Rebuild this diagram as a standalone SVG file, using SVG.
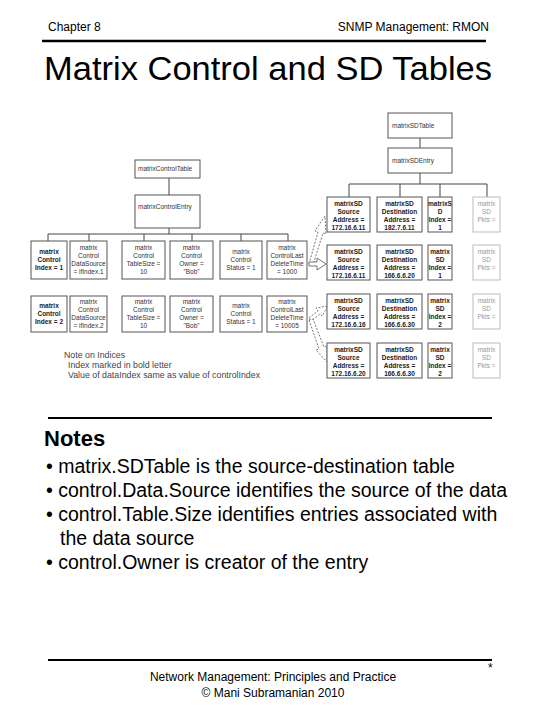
<svg xmlns="http://www.w3.org/2000/svg" width="540" height="720" viewBox="0 0 540 720">
<style>
.hdr{font-family:"Liberation Sans",Arial,sans-serif;font-size:12px;fill:#000}
.ttl{font-family:"Liberation Sans",Arial,sans-serif;font-size:33px;fill:#000}
.nts{font-family:"Liberation Sans",Arial,sans-serif;font-size:22px;font-weight:bold;fill:#000}
.bul{font-family:"Liberation Sans",Arial,sans-serif;font-size:19.5px;fill:#000}
.ftr{font-family:"Liberation Sans",Arial,sans-serif;font-size:12px;fill:#000}
.bx{fill:#fff;stroke:#555;stroke-width:1}
.lbx{fill:#fff;stroke:#bbb;stroke-width:1}
.t{font-family:"Liberation Sans",Arial,sans-serif;font-size:6.5px;fill:#333;text-anchor:middle}
.tl{font-family:"Liberation Sans",Arial,sans-serif;font-size:6.5px;fill:#333}
.nt{font-family:"Liberation Sans",Arial,sans-serif;font-size:8.8px;fill:#444}
.b{font-weight:bold;fill:#222}
.lt{fill:#999}
.cn{stroke:#444;stroke-width:1;fill:none}
.ar{stroke:#555;stroke-width:0.8;fill:#fff;stroke-dasharray:2 1.5}
.ars{stroke:#555;stroke-width:0.8;fill:#fff}
.rule{stroke:#000;stroke-width:2.5}
</style>
<text class="hdr" x="48" y="31">Chapter 8</text>
<text class="hdr" x="489" y="31" text-anchor="end">SNMP Management:  RMON</text>
<line class="rule" x1="42" y1="41" x2="486" y2="41"/>
<text class="ttl" x="44" y="80" textLength="448" lengthAdjust="spacingAndGlyphs">Matrix Control and SD Tables</text>

<g id="connectors">
<line class="cn" x1="420" y1="138" x2="420" y2="148"/>
<polyline class="cn" points="420,173 420,184"/>
<line class="cn" x1="349" y1="184" x2="487" y2="184"/>
<line class="cn" x1="349" y1="184" x2="349" y2="197"/>
<line class="cn" x1="400" y1="184" x2="400" y2="197"/>
<line class="cn" x1="440" y1="184" x2="440" y2="197"/>
<line class="cn" x1="487" y1="184" x2="487" y2="197"/>
<line class="cn" x1="169" y1="178" x2="169" y2="195"/>
<line class="cn" x1="169" y1="228" x2="169" y2="234"/>
<line class="cn" x1="48" y1="234" x2="288" y2="234"/>
<line class="cn" x1="48" y1="234" x2="48" y2="241"/>
<line class="cn" x1="89" y1="234" x2="89" y2="241"/>
<line class="cn" x1="144" y1="234" x2="144" y2="241"/>
<line class="cn" x1="192" y1="234" x2="192" y2="241"/>
<line class="cn" x1="241" y1="234" x2="241" y2="241"/>
<line class="cn" x1="288" y1="234" x2="288" y2="241"/>
<path class="ar" d="M309,264 L318,232 L315,231 L325,216 L326,234 L323,233 L313,265 Z"/>
<path class="ars" d="M309,262 L317,262 L317,258 L326,264 L317,270 L317,266 L309,266 Z"/>
<path class="ar" d="M309,318 L318,311 L316,308 L328,306 L322,316 L320,314 L311,321 Z"/>
<path class="ar" d="M309,320 L319,349 L316,350 L327,362 L327,346 L324,347 L313,319 Z"/>
</g>

<g id="matrixSDTable"><rect class="bx" x="388" y="113" width="64" height="25"/><text class="tl" x="392" y="128">matrixSDTable</text></g>
<g id="matrixSDEntry"><rect class="bx" x="388" y="148" width="64" height="25"/><text class="tl" x="392" y="163">matrixSDEntry</text></g>
<g id="matrixControlTable"><rect class="bx" x="135" y="160" width="65" height="18"/><text class="tl" x="138" y="171">matrixControlTable</text></g>
<g id="matrixControlEntry"><rect class="bx" x="135" y="195" width="65" height="33"/><text class="tl" x="138" y="209">matrixControlEntry</text></g>

<!-- left row 1 -->
<g id="ctl1-index"><rect class="bx" x="31" y="241" width="36" height="38"/><text class="t b" x="49" y="254">matrix</text><text class="t b" x="49" y="262">Control</text><text class="t b" x="49" y="270">Index = 1</text></g>
<g id="ctl1-source"><rect class="bx" x="70" y="241" width="37" height="38"/><text class="t" x="88.5" y="250">matrix</text><text class="t" x="88.5" y="258">Control</text><text class="t" x="88.5" y="266">DataSource</text><text class="t" x="88.5" y="274">= ifIndex.1</text></g>
<g id="ctl1-size"><rect class="bx" x="122" y="241" width="43" height="38"/><text class="t" x="143.5" y="250">matrix</text><text class="t" x="143.5" y="258">Control</text><text class="t" x="143.5" y="266">TableSize =</text><text class="t" x="143.5" y="274">10</text></g>
<g id="ctl1-owner"><rect class="bx" x="170" y="241" width="43" height="38"/><text class="t" x="191.5" y="250">matrix</text><text class="t" x="191.5" y="258">Control</text><text class="t" x="191.5" y="266">Owner =</text><text class="t" x="191.5" y="274">"Bob"</text></g>
<g id="ctl1-status"><rect class="bx" x="220" y="241" width="42" height="38"/><text class="t" x="241" y="254">matrix</text><text class="t" x="241" y="262">Control</text><text class="t" x="241" y="270">Status = 1</text></g>
<g id="ctl1-delete"><rect class="bx" x="267" y="241" width="40" height="38"/><text class="t" x="287" y="250">matrix</text><text class="t" x="287" y="258">ControlLast</text><text class="t" x="287" y="266">DeleteTime</text><text class="t" x="287" y="274">= 1000</text></g>

<!-- left row 2 -->
<g id="ctl2-index"><rect class="bx" x="31" y="296" width="36" height="36"/><text class="t b" x="49" y="308">matrix</text><text class="t b" x="49" y="316">Control</text><text class="t b" x="49" y="324">Index = 2</text></g>
<g id="ctl2-source"><rect class="bx" x="70" y="296" width="37" height="36"/><text class="t" x="88.5" y="304">matrix</text><text class="t" x="88.5" y="312">Control</text><text class="t" x="88.5" y="320">DataSource</text><text class="t" x="88.5" y="328">= ifIndex.2</text></g>
<g id="ctl2-size"><rect class="bx" x="122" y="296" width="43" height="36"/><text class="t" x="143.5" y="304">matrix</text><text class="t" x="143.5" y="312">Control</text><text class="t" x="143.5" y="320">TableSize =</text><text class="t" x="143.5" y="328">10</text></g>
<g id="ctl2-owner"><rect class="bx" x="170" y="296" width="43" height="36"/><text class="t" x="191.5" y="304">matrix</text><text class="t" x="191.5" y="312">Control</text><text class="t" x="191.5" y="320">Owner =</text><text class="t" x="191.5" y="328">"Bob"</text></g>
<g id="ctl2-status"><rect class="bx" x="220" y="296" width="42" height="36"/><text class="t" x="241" y="308">matrix</text><text class="t" x="241" y="316">Control</text><text class="t" x="241" y="324">Status = 1</text></g>
<g id="ctl2-delete"><rect class="bx" x="267" y="296" width="40" height="36"/><text class="t" x="287" y="304">matrix</text><text class="t" x="287" y="312">ControlLast</text><text class="t" x="287" y="320">DeleteTime</text><text class="t" x="287" y="328">= 10005</text></g>

<!-- SD rows -->
<g id="sd1-src"><rect class="bx" x="327" y="197" width="43" height="35"/><text class="t b" x="348.5" y="206">matrixSD</text><text class="t b" x="348.5" y="214">Source</text><text class="t b" x="348.5" y="222">Address =</text><text class="t b" x="348.5" y="230">172.16.6.11</text></g>
<g id="sd1-dst"><rect class="bx" x="377" y="197" width="45" height="35"/><text class="t b" x="399.5" y="206">matrixSD</text><text class="t b" x="399.5" y="214">Destination</text><text class="t b" x="399.5" y="222">Address =</text><text class="t b" x="399.5" y="230">182.7.6.11</text></g>
<g id="sd1-idx"><rect class="bx" x="428" y="197" width="24" height="35"/><text class="t b" x="440" y="206">matrixS</text><text class="t b" x="440" y="214">D</text><text class="t b" x="440" y="222">Index =</text><text class="t b" x="440" y="230">1</text></g>
<g id="sd1-pkts"><rect class="lbx" x="473" y="197" width="27" height="35"/><text class="t lt" x="486.5" y="206">matrix</text><text class="t lt" x="486.5" y="214">SD</text><text class="t lt" x="486.5" y="222">Pkts =</text></g>

<g id="sd2-src"><rect class="bx" x="327" y="245" width="43" height="35"/><text class="t b" x="348.5" y="254">matrixSD</text><text class="t b" x="348.5" y="262">Source</text><text class="t b" x="348.5" y="270">Address =</text><text class="t b" x="348.5" y="278">172.16.6.11</text></g>
<g id="sd2-dst"><rect class="bx" x="377" y="245" width="45" height="35"/><text class="t b" x="399.5" y="254">matrixSD</text><text class="t b" x="399.5" y="262">Destination</text><text class="t b" x="399.5" y="270">Address =</text><text class="t b" x="399.5" y="278">166.6.6.20</text></g>
<g id="sd2-idx"><rect class="bx" x="428" y="245" width="24" height="35"/><text class="t b" x="440" y="254">matrix</text><text class="t b" x="440" y="262">SD</text><text class="t b" x="440" y="270">Index =</text><text class="t b" x="440" y="278">1</text></g>
<g id="sd2-pkts"><rect class="lbx" x="473" y="245" width="27" height="35"/><text class="t lt" x="486.5" y="254">matrix</text><text class="t lt" x="486.5" y="262">SD</text><text class="t lt" x="486.5" y="270">Pkts =</text></g>

<g id="sd3-src"><rect class="bx" x="327" y="294" width="43" height="35"/><text class="t b" x="348.5" y="303">matrixSD</text><text class="t b" x="348.5" y="311">Source</text><text class="t b" x="348.5" y="319">Address =</text><text class="t b" x="348.5" y="327">172.16.6.16</text></g>
<g id="sd3-dst"><rect class="bx" x="377" y="294" width="45" height="35"/><text class="t b" x="399.5" y="303">matrixSD</text><text class="t b" x="399.5" y="311">Destination</text><text class="t b" x="399.5" y="319">Address =</text><text class="t b" x="399.5" y="327">166.6.6.30</text></g>
<g id="sd3-idx"><rect class="bx" x="428" y="294" width="24" height="35"/><text class="t b" x="440" y="303">matrix</text><text class="t b" x="440" y="311">SD</text><text class="t b" x="440" y="319">Index =</text><text class="t b" x="440" y="327">2</text></g>
<g id="sd3-pkts"><rect class="lbx" x="473" y="294" width="27" height="35"/><text class="t lt" x="486.5" y="303">matrix</text><text class="t lt" x="486.5" y="311">SD</text><text class="t lt" x="486.5" y="319">Pkts =</text></g>

<g id="sd4-src"><rect class="bx" x="327" y="343" width="43" height="35"/><text class="t b" x="348.5" y="352">matrixSD</text><text class="t b" x="348.5" y="360">Source</text><text class="t b" x="348.5" y="368">Address =</text><text class="t b" x="348.5" y="376">172.16.6.20</text></g>
<g id="sd4-dst"><rect class="bx" x="377" y="343" width="45" height="35"/><text class="t b" x="399.5" y="352">matrixSD</text><text class="t b" x="399.5" y="360">Destination</text><text class="t b" x="399.5" y="368">Address =</text><text class="t b" x="399.5" y="376">166.6.6.30</text></g>
<g id="sd4-idx"><rect class="bx" x="428" y="343" width="24" height="35"/><text class="t b" x="440" y="352">matrix</text><text class="t b" x="440" y="360">SD</text><text class="t b" x="440" y="368">Index =</text><text class="t b" x="440" y="376">2</text></g>
<g id="sd4-pkts"><rect class="lbx" x="473" y="343" width="27" height="35"/><text class="t lt" x="486.5" y="352">matrix</text><text class="t lt" x="486.5" y="360">SD</text><text class="t lt" x="486.5" y="368">Pkts =</text></g>

<g id="note">
<text class="nt" x="64" y="358">Note on Indices</text>
<text class="nt" x="68" y="368">Index marked in bold letter</text>
<text class="nt" x="68" y="378">Value of dataIndex same as value of controlIndex</text>
</g>

<line class="rule" x1="48" y1="418" x2="492" y2="418" style="stroke-width:2"/>
<text class="nts" x="44" y="446">Notes</text>
<text class="bul" x="46" y="473">• matrix.SDTable is the source-destination table</text>
<text class="bul" x="46" y="497">• control.Data.Source identifies the source of the data</text>
<text class="bul" x="46" y="521">• control.Table.Size identifies entries associated with</text>
<text class="bul" x="60" y="545">the data source</text>
<text class="bul" x="46" y="569">• control.Owner is creator of the entry</text>

<line class="rule" x1="48" y1="660" x2="492" y2="660" style="stroke-width:2"/>
<text class="ftr" x="488" y="672">*</text>
<text class="ftr" x="273" y="681" text-anchor="middle">Network Management: Principles and Practice</text>
<text class="ftr" x="273" y="697" text-anchor="middle">©  Mani Subramanian 2010</text>
</svg>
